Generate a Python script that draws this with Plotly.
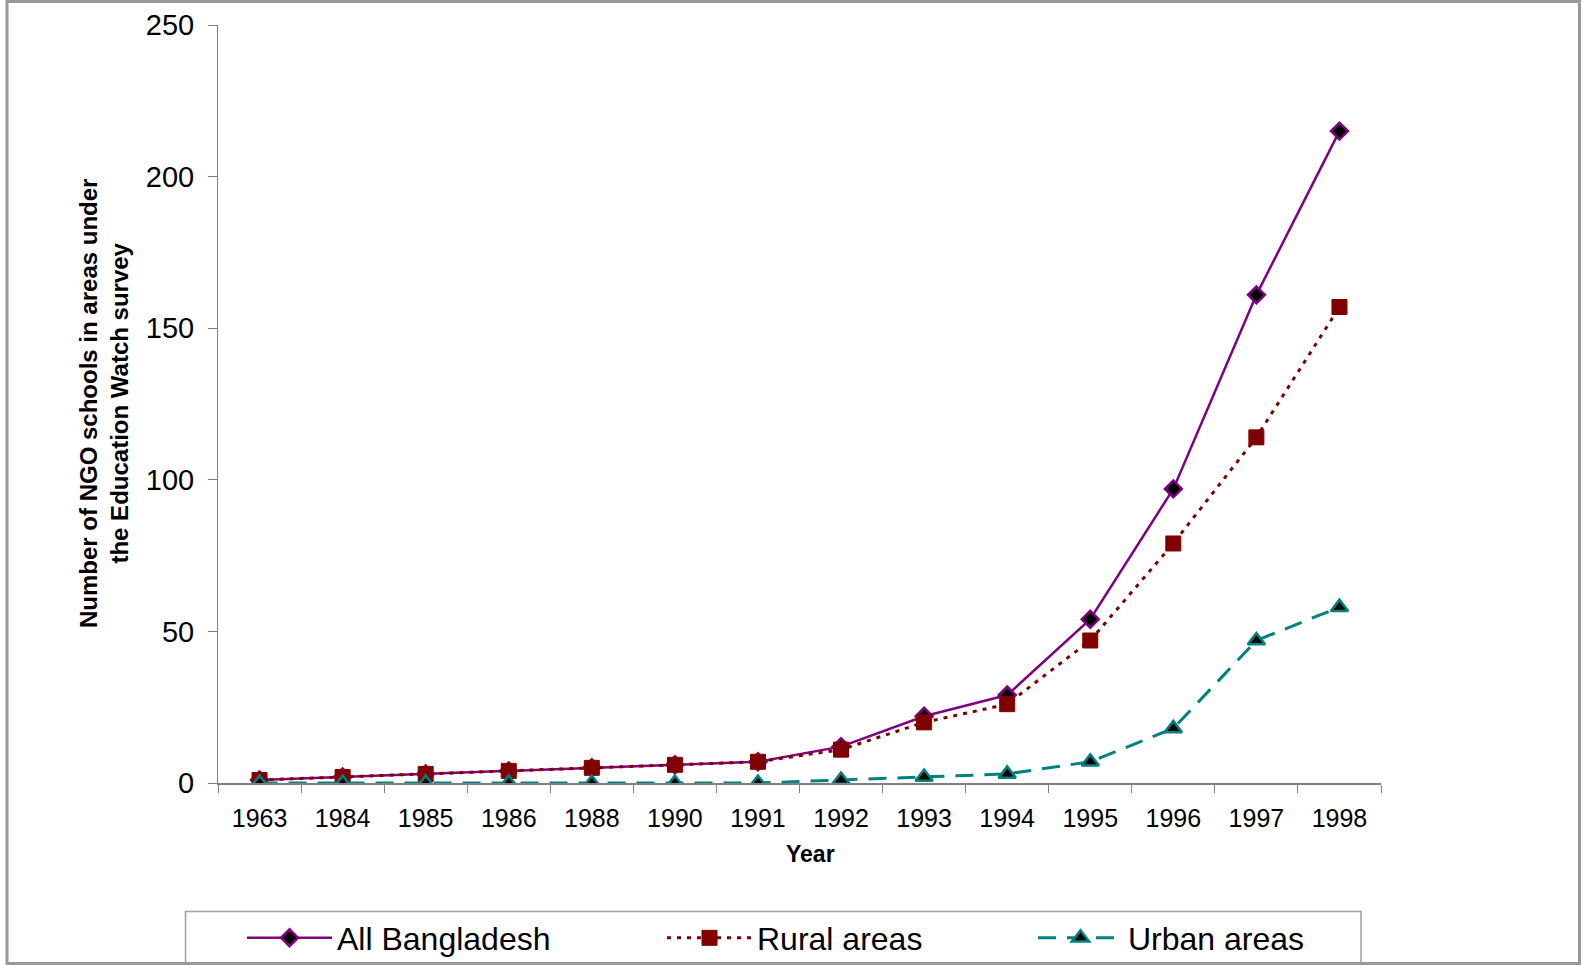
import plotly.graph_objects as go

# Survey years (categorical axis) and school counts per area type
years = ["1963", "1984", "1985", "1986", "1988", "1990", "1991",
         "1992", "1993", "1994", "1995", "1996", "1997", "1998"]
all_bangladesh = [1, 2, 3, 4, 5, 6, 7, 12, 22, 29, 54, 97, 161, 215]
rural_areas = [1, 2, 3, 4, 5, 6, 7, 11, 20, 26, 47, 79, 114, 157]
urban_areas = [0, 0, 0, 0, 0, 0, 0, 1, 2, 3, 7, 18, 47, 58]
y_ticks = [0, 50, 100, 150, 200, 250]

W, H = 1581, 965
L, R, T, B = 218, 1381, 25, 783  # plot area in pixels

def px(x):
    return (x - L) / (R - L)

def py(y):
    return (B - y) / (B - T)

FONT = "Arial, Liberation Sans, sans-serif"

fig = go.Figure()
fig.add_trace(go.Scatter(
    x=years, y=all_bangladesh, name="All Bangladesh", mode="lines+markers",
    line=dict(color="#800080", width=2.5),
    marker=dict(symbol="diamond", size=13, color="black",
                line=dict(color="#800080", width=2.5)),
    legend="legend",
))
fig.add_trace(go.Scatter(
    x=years, y=rural_areas, name="Rural areas", mode="lines+markers",
    line=dict(color="#800000", width=3, dash="4px,6px"),
    marker=dict(symbol="square", size=15, color="#800000",
                line=dict(color="#800000", width=1)),
    legend="legend2",
))
fig.add_trace(go.Scatter(
    x=years, y=urban_areas, name="Urban areas", mode="lines+markers",
    line=dict(color="#008080", width=3, dash="18px,11px"),
    marker=dict(symbol="triangle-up", size=15, color="black",
                line=dict(color="#008080", width=2.5)),
    legend="legend3",
))

# legends placed in container coordinates so they do not push the margins
legend_common = dict(orientation="h", yref="container", xref="container",
                     yanchor="middle", y=(H - 938) / H,
                     xanchor="left", bgcolor="rgba(0,0,0,0)", borderwidth=0,
                     itemwidth=85, font=dict(family=FONT, size=32, color="black"))

fig.update_layout(
    width=W, height=H,
    margin=dict(l=L, r=W - R, t=T, b=H - B, pad=0, autoexpand=False),
    paper_bgcolor="white", plot_bgcolor="white",
    font=dict(family=FONT, color="black"),
    showlegend=True,
    legend=dict(legend_common, x=242 / W),
    legend2=dict(legend_common, x=662 / W),
    legend3=dict(legend_common, x=1033 / W),
    xaxis=dict(
        type="category", tickson="boundaries", ticks="outside", ticklen=8,
        tickcolor="#808080", tickwidth=1, showgrid=False, zeroline=False,
        showline=True, linecolor="#808080", linewidth=2,
        tickfont=dict(family=FONT, size=25, color="black"),
        ticklabelstandoff=12,
        range=[-0.5, len(years) - 0.5],
    ),
    yaxis=dict(
        range=[0, 250], tickvals=y_ticks, ticks="outside", ticklen=9,
        tickcolor="#808080", tickwidth=1, showgrid=False, zeroline=False,
        showline=True, linecolor="#808080", linewidth=1,
        tickfont=dict(family=FONT, size=29, color="black"),
        ticklabelstandoff=8,
    ),
    annotations=[
        dict(text="<b>Number of NGO schools in areas under<br>the Education Watch survey</b>",
             textangle=-90, xref="paper", yref="paper", x=px(104), y=py(404),
             xanchor="center", yanchor="middle", showarrow=False,
             font=dict(family=FONT, size=24, color="black")),
        dict(text="<b>Year</b>", xref="paper", yref="paper", x=px(810), y=py(854),
             xanchor="center", yanchor="middle", showarrow=False,
             font=dict(family=FONT, size=23, color="black")),
    ],
    shapes=[
        # legend frame
        dict(type="rect", xref="paper", yref="paper",
             x0=px(185.5), x1=px(1361), y0=py(911.5), y1=py(964),
             line=dict(color="#a0a0a0", width=1.5), fillcolor="rgba(0,0,0,0)"),
        # outer chart frame
        dict(type="rect", xref="paper", yref="paper",
             x0=px(7), x1=px(1579.5), y0=py(1.5), y1=py(963.5),
             line=dict(color="#9a9a9a", width=3), fillcolor="rgba(0,0,0,0)"),
    ],
)

fig.write_html("out.html")
